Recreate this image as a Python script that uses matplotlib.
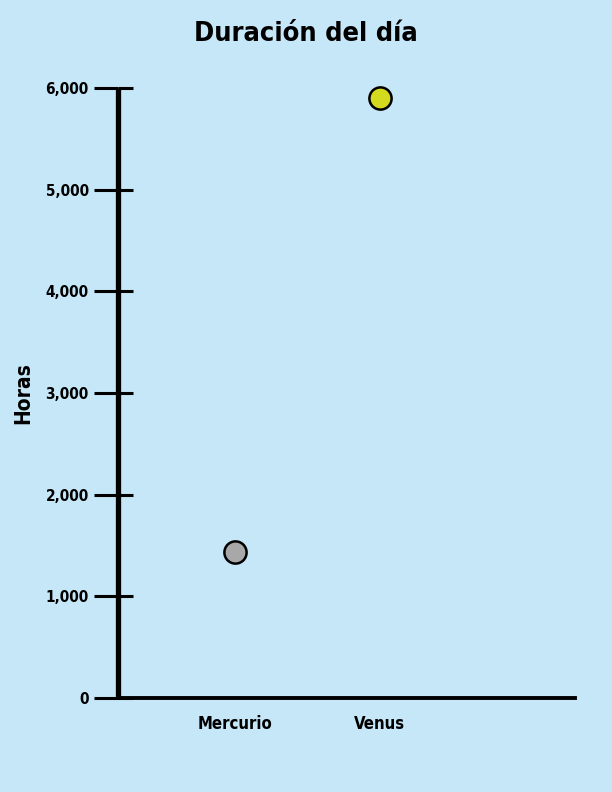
import matplotlib.pyplot as plt
from matplotlib.ticker import FuncFormatter

planetas = ['Mercurio', 'Venus']
horas = [1440, 5900]
colores = ['#a8a8a8', '#d4db1e']
yticks = [0, 1000, 2000, 3000, 4000, 5000, 6000]

fondo = '#c6e7f7'
fuente = 'DejaVu Sans'
estirar = 'condensed'

fig = plt.figure(figsize=(6.12, 7.92), dpi=100, facecolor=fondo)
ax = fig.add_axes([0.1928, 0.1187, 0.7467, 0.7702], facecolor=fondo)

xs = range(len(planetas))
for x, h, c in zip(xs, horas, colores):
    ax.plot(x, h, 'o', ms=16, mfc=c, mec='black', mew=1.8, zorder=5, clip_on=False)

ax.set_xlim(-0.807, 2.345)
ax.set_ylim(0, 6000)
ax.set_yticks(yticks)
ax.set_yticks(yticks, minor=True)
ax.yaxis.remove_overlapping_locs = False
ax.yaxis.set_major_formatter(FuncFormatter(lambda v, p: f'{int(v):,}'))
ax.set_xticks(list(xs))
ax.set_xticklabels(planetas)

for s in ['top', 'right']:
    ax.spines[s].set_visible(False)
ax.spines['left'].set_linewidth(3.8)
ax.spines['bottom'].set_linewidth(2.8)
ax.spines['left'].set_capstyle('butt')

# ticks cross the axis, longer on the outside
ax.tick_params(axis='y', which='major', direction='out', length=17, width=2.2, pad=4)
ax.tick_params(axis='y', which='minor', direction='in', length=11, width=2.2)
ax.tick_params(axis='x', length=0, pad=12)
for lab in ax.get_yticklabels():
    lab.set_family(fuente)
    lab.set_stretch(estirar)
    lab.set_fontweight('bold')
    lab.set_fontsize(11)
for lab in ax.get_xticklabels():
    lab.set_family(fuente)
    lab.set_stretch(estirar)
    lab.set_fontweight('bold')
    lab.set_fontsize(12)

ax.set_ylabel('Horas', family=fuente, stretch=estirar, fontweight='bold',
              fontsize=15, labelpad=9)
fig.text(0.5, 0.957, 'Duración del día', ha='center', va='center',
         family=fuente, stretch=estirar, fontweight='bold', fontsize=19.5)

fig.savefig('out.png', dpi=100, facecolor=fondo)
